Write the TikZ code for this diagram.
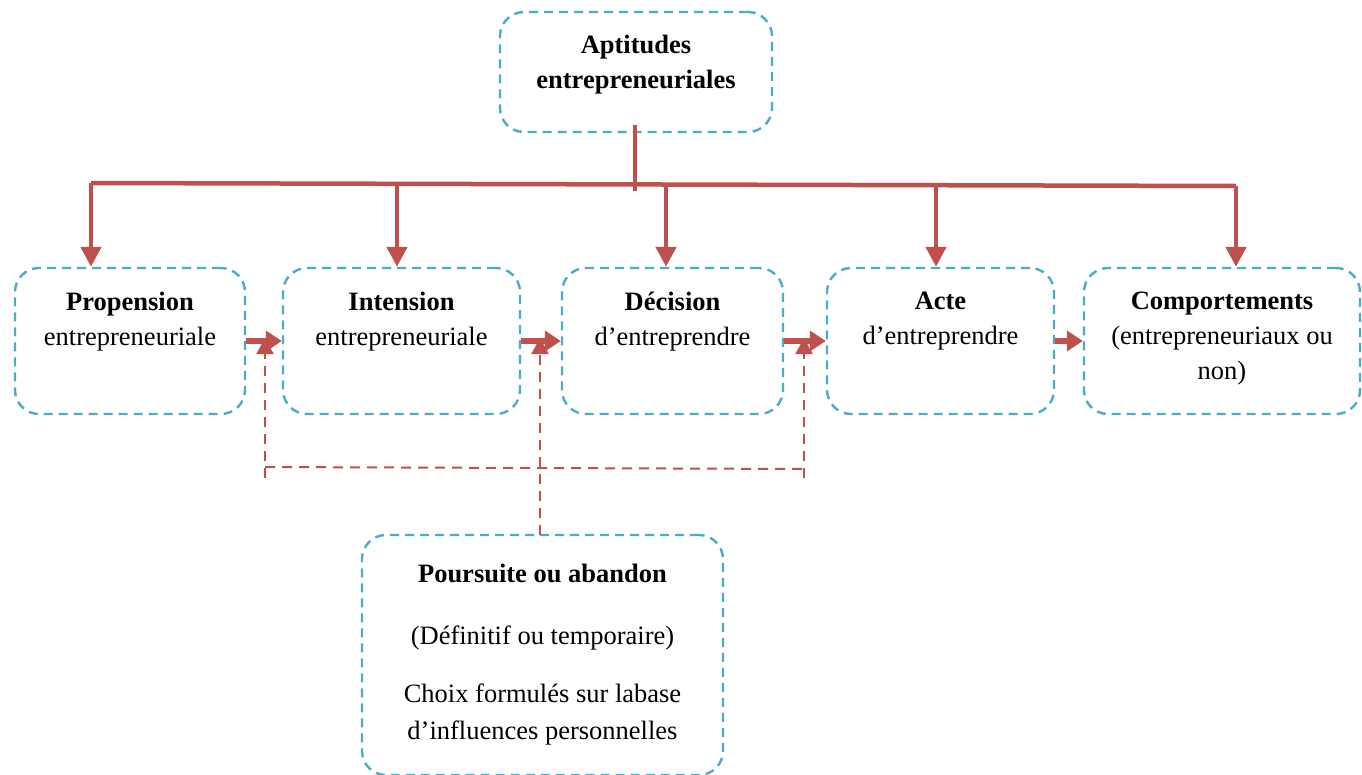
\documentclass[tikz,border=0pt]{standalone}
\usepackage{fontspec}
\setmainfont{Liberation Serif}
\usetikzlibrary{arrows.meta}
\definecolor{rd}{HTML}{C0504D}
\definecolor{bl}{HTML}{4BACC6}
\begin{document}
\begin{tikzpicture}[x=1pt,y=-1pt,
  box/.style={draw=bl, line width=2.4pt, dash pattern=on 9pt off 6pt, rounded corners=24pt, inner sep=0pt},
  txt/.style={align=center, inner sep=0pt, anchor=north, font=\fontsize{26.5}{35}\selectfont},
  tree/.style={draw=rd, line width=4.5pt},
  treearrow/.style={draw=rd, line width=4.5pt, -{Triangle[length=20pt,width=20pt]}},
  harrow/.style={draw=rd, line width=6pt, -{Triangle[length=16pt,width=20pt]}, shorten <=0pt},
  darrow/.style={draw=rd, line width=2pt, dash pattern=on 10pt off 7pt, -{Triangle[length=16pt,width=17pt]}},
  dline/.style={draw=rd, line width=2pt, dash pattern=on 10pt off 7pt}]
\useasboundingbox (0,0) rectangle (1362,774);
% boxes
\node[box, minimum width=272pt, minimum height=120pt] (apt) at (636,72) {};
\node[box, minimum width=230pt, minimum height=146pt] (prop) at (130,341) {};
\node[box, minimum width=237pt, minimum height=146pt] (int) at (401.5,341) {};
\node[box, minimum width=221pt, minimum height=146pt] (dec) at (672.5,341) {};
\node[box, minimum width=227pt, minimum height=146pt] (act) at (940.5,341) {};
\node[box, minimum width=276pt, minimum height=146pt] (comp) at (1222,341) {};
\node[box, minimum width=361pt, minimum height=240pt] (pour) at (542.5,655) {};
% texts
\node[txt] (t1) at (636,35) {\textbf{Aptitudes}\\\textbf{entrepreneuriales}};
\node[txt] (t2) at (130,292) {\textbf{Propension}\\entrepreneuriale};
\node[txt] (t3) at (401.5,292) {\textbf{Intension}\\entrepreneuriale};
\node[txt] (t4) at (672.5,292) {\textbf{Décision}\\d’entreprendre};
\node[txt] (t5) at (940.5,292) {\textbf{Acte}\\d’entreprendre};
\node[txt] (t6) at (1222,292) {\textbf{Comportements}\\(entrepreneuriaux ou\\non)};
\node[txt, font=\fontsize{26.5}{37}\selectfont] (t7) at (542.5,564) {\textbf{Poursuite ou abandon}\\[25pt](Définitif ou temporaire)\\[21pt]Choix formulés sur labase\\d’influences personnelles};
% tree
\coordinate (top) at (635,125);
\coordinate (hl) at (91,183);
\coordinate (hr) at (1236,186);
\coordinate (hm) at (635,191);
\draw[tree] (top) -- (hm);
\draw[tree] (hl) -- (hr);
\coordinate (d1) at (91,183);
\coordinate (d2) at (397,184);
\coordinate (d3) at (666,184);
\coordinate (d4) at (936,185);
\coordinate (d5) at (1236,186);
\draw[treearrow] (d1) -- (d1 |- prop.north);
\draw[treearrow] (d2) -- (d2 |- int.north);
\draw[treearrow] (d3) -- (d3 |- dec.north);
\draw[treearrow] (d4) -- (d4 |- act.north);
\draw[treearrow] (d5) -- (d5 |- comp.north);
% horizontal arrows
\draw[harrow] (prop.east) -- (int.west);
\draw[harrow] (int.east) -- (dec.west);
\draw[harrow] (dec.east) -- (act.west);
\draw[harrow] (act.east) -- (comp.west);
% dashed feedback
\coordinate (a1) at (265,338);
\coordinate (a2) at (540,338);
\coordinate (a3) at (804,338);
\coordinate (b1) at (265,478);
\coordinate (b3) at (804,478);
\coordinate (h1) at (265,467);
\coordinate (h3) at (804,469);
\coordinate (p1) at (540,535);
\draw[darrow] (b1) -- (a1);
\draw[darrow] (b3) -- (a3);
\draw[darrow] (p1) -- (a2);
\draw[dline] (h1) -- (h3);
\end{tikzpicture}
\end{document}
